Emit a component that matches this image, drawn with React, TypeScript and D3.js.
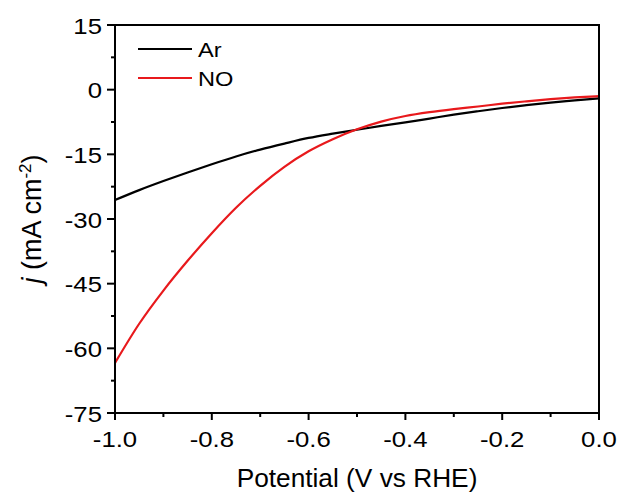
import * as d3 from 'd3';

// potential (V vs RHE)
const potential = [-1.0, -0.95, -0.9, -0.85, -0.8, -0.75, -0.7, -0.65, -0.6, -0.55, -0.5, -0.45, -0.4, -0.35, -0.3, -0.25, -0.2, -0.15, -0.1, -0.05, 0.0];
// current density, mA cm-2
const arCurrent = [-25.6, -23.3, -21.2, -19.2, -17.3, -15.5, -13.9, -12.5, -11.2, -10.2, -9.3, -8.4, -7.6, -6.7, -5.8, -5.0, -4.25, -3.6, -3.0, -2.5, -2.0];
const noCurrent = [-63.4, -54.3, -46.6, -39.7, -33.3, -27.4, -22.3, -17.9, -14.3, -11.5, -9.2, -7.4, -6.1, -5.2, -4.5, -3.9, -3.25, -2.7, -2.2, -1.8, -1.5];

const xTicks = [-1.0, -0.8, -0.6, -0.4, -0.2, 0.0];
const yTicks = [15, 0, -15, -30, -45, -60, -75];

const series = [
  { name: 'Ar', color: '#000000', values: arCurrent },
  { name: 'NO', color: '#e8191c', values: noCurrent },
];

const font = 'Liberation Sans, Arial, sans-serif';

// the reference's text is a bit wider than Arial, so labels get a horizontal stretch
function Label({ x, y, anchor = 'start', size = 22, sx = 1.17, children }: any) {
  return (
    <g transform={`translate(${x},${y}) scale(${sx},1)`}>
      <text textAnchor={anchor} fontFamily={font} fontSize={size}>{children}</text>
    </g>
  );
}

export default function App() {
  const W = 623, H = 497;
  const m = { left: 115, right: 24, top: 25, bottom: 84 };
  const x = d3.scaleLinear().domain([-1, 0]).range([m.left, W - m.right]);
  const y = d3.scaleLinear().domain([-75, 15]).range([H - m.bottom, m.top]);

  const line = (vals: number[]) =>
    d3.line<number>()
      .x((_, i) => x(potential[i]))
      .y(d => y(d))
      .curve(d3.curveMonotoneX)(vals) as string;

  const xMinor = d3.range(-0.9, 0, 0.2).map(v => +v.toFixed(2));
  const yMinor = d3.range(7.5, -75, -15);
  const x0 = x.range()[0], x1 = x.range()[1], y0 = y.range()[0], y1 = y.range()[1];

  return (
    <svg width={W} height={H} style={{ position: 'absolute', left: 0, top: 0 }}>
      <rect x={0} y={0} width={W} height={H} fill="#fff" />
      <defs>
        <clipPath id="plot">
          <rect x={x0} y={y1} width={x1 - x0} height={y0 - y1} />
        </clipPath>
      </defs>
      <g clipPath="url(#plot)" fill="none" strokeWidth={2.2}>
        {series.map(s => (
          <path key={s.name} d={line(s.values)} stroke={s.color} />
        ))}
      </g>
      <rect x={x0} y={y1} width={x1 - x0} height={y0 - y1} fill="none" stroke="#000" strokeWidth={2} />
      {xTicks.map(t => (
        <g key={'x' + t}>
          <line x1={x(t)} x2={x(t)} y1={y0} y2={y0 + 7} stroke="#000" strokeWidth={2} />
          <Label x={x(t)} y={y0 + 34} anchor="middle">{t.toFixed(1)}</Label>
        </g>
      ))}
      {xMinor.map(t => (
        <line key={'xm' + t} x1={x(t)} x2={x(t)} y1={y0} y2={y0 + 4} stroke="#000" strokeWidth={2} />
      ))}
      {yTicks.map(t => (
        <g key={'y' + t}>
          <line x1={x0} x2={x0 - 8} y1={y(t)} y2={y(t)} stroke="#000" strokeWidth={2} />
          <Label x={x0 - 13} y={y(t) + 8.5} anchor="end">{t}</Label>
        </g>
      ))}
      {yMinor.map(t => (
        <line key={'ym' + t} x1={x0} x2={x0 - 4} y1={y(t)} y2={y(t)} stroke="#000" strokeWidth={2} />
      ))}
      {series.map((s, i) => (
        <g key={'leg' + s.name}>
          <line x1={138} x2={192} y1={49 + i * 29} y2={49 + i * 29} stroke={s.color} strokeWidth={2.2} />
          <Label x={198} y={56.5 + i * 29} size={20} sx={1.18}>{s.name}</Label>
        </g>
      ))}
      <Label x={(x0 + x1) / 2} y={487} anchor="middle" size={25.5} sx={1.03}>Potential (V vs RHE)</Label>
      <text transform={`translate(41, ${(y0 + y1) / 2}) rotate(-90)`} textAnchor="middle" fontFamily={font} fontSize={27}>
        <tspan fontStyle="italic">j</tspan> (mA cm<tspan dy={-10} fontSize={17}>-2</tspan><tspan dy={10}>)</tspan>
      </text>
    </svg>
  );
}
